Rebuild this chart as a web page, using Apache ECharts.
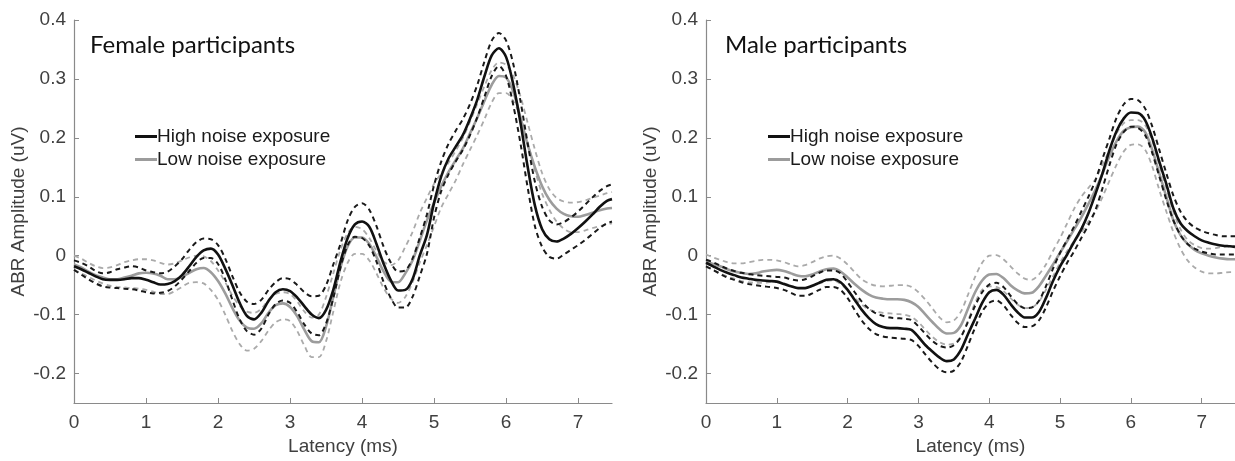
<!DOCTYPE html>
<html><head><meta charset="utf-8">
<script src="https://cdn.jsdelivr.net/npm/echarts@6/dist/echarts.min.js"></script>
<style>html,body{margin:0;padding:0;background:#fff}#c{width:1235px;height:461px}</style>
</head><body><div id="c"></div>
<script>
// Latency sample points (ms)
const latency = [0,0.1,0.2,0.3,0.4,0.5,0.6,0.7,0.8,0.9,1.0,1.1,1.2,1.3,1.4,1.5,1.6,1.7,1.8,1.9,2.0,2.1,2.2,2.3,2.4,2.5,2.6,2.7,2.8,2.9,3.0,3.1,3.2,3.3,3.4,3.5,3.6,3.7,3.8,3.9,4.0,4.1,4.2,4.3,4.4,4.5,4.6,4.7,4.8,4.9,5.0,5.1,5.2,5.3,5.4,5.5,5.6,5.7,5.8,5.9,6.0,6.1,6.2,6.3,6.4,6.5,6.6,6.7,6.8,6.9,7.0,7.1,7.2,7.3,7.4,7.47];

// Female participants
const femaleHigh = [-0.018,-0.023,-0.029,-0.035,-0.040,-0.041,-0.041,-0.040,-0.038,-0.038,-0.041,-0.045,-0.049,-0.048,-0.043,-0.033,-0.018,-0.002,0.009,0.012,0.002,-0.022,-0.050,-0.080,-0.102,-0.108,-0.097,-0.077,-0.062,-0.057,-0.060,-0.071,-0.086,-0.100,-0.106,-0.092,-0.058,-0.010,0.030,0.053,0.058,0.049,0.020,-0.014,-0.042,-0.059,-0.058,-0.040,0.000,0.035,0.090,0.135,0.165,0.185,0.205,0.233,0.265,0.305,0.340,0.352,0.337,0.290,0.225,0.150,0.085,0.045,0.028,0.024,0.029,0.037,0.047,0.058,0.070,0.083,0.093,0.096];
const femaleHighUpper = [-0.008,-0.012,-0.018,-0.026,-0.030,-0.028,-0.023,-0.020,-0.018,-0.020,-0.025,-0.028,-0.030,-0.027,-0.018,-0.006,0.010,0.023,0.029,0.028,0.018,-0.005,-0.035,-0.062,-0.078,-0.082,-0.075,-0.058,-0.045,-0.038,-0.040,-0.050,-0.062,-0.069,-0.068,-0.050,-0.015,0.020,0.060,0.083,0.089,0.078,0.050,0.015,-0.012,-0.027,-0.025,-0.005,0.030,0.070,0.120,0.160,0.190,0.212,0.232,0.258,0.290,0.330,0.365,0.378,0.365,0.325,0.262,0.190,0.125,0.083,0.060,0.053,0.057,0.065,0.075,0.087,0.099,0.110,0.118,0.121];
const femaleHighLower = [-0.024,-0.032,-0.040,-0.047,-0.052,-0.054,-0.055,-0.056,-0.057,-0.059,-0.062,-0.064,-0.063,-0.060,-0.052,-0.040,-0.026,-0.012,-0.004,-0.004,-0.014,-0.040,-0.075,-0.108,-0.128,-0.134,-0.124,-0.100,-0.082,-0.076,-0.080,-0.096,-0.117,-0.132,-0.135,-0.115,-0.072,-0.020,0.018,0.032,0.030,0.017,-0.010,-0.045,-0.072,-0.088,-0.088,-0.070,-0.035,0.003,0.065,0.110,0.138,0.160,0.180,0.205,0.235,0.270,0.305,0.322,0.305,0.255,0.190,0.115,0.050,0.015,-0.002,-0.005,0.002,0.010,0.018,0.027,0.037,0.047,0.055,0.058];
const femaleLow = [-0.015,-0.020,-0.027,-0.033,-0.037,-0.040,-0.040,-0.037,-0.034,-0.030,-0.029,-0.030,-0.034,-0.040,-0.040,-0.036,-0.029,-0.023,-0.021,-0.028,-0.043,-0.064,-0.089,-0.110,-0.122,-0.124,-0.115,-0.097,-0.084,-0.081,-0.087,-0.103,-0.126,-0.145,-0.147,-0.120,-0.070,-0.020,0.016,0.031,0.031,0.020,-0.002,-0.027,-0.044,-0.045,-0.030,-0.008,0.025,0.060,0.090,0.118,0.142,0.162,0.182,0.208,0.234,0.263,0.290,0.305,0.302,0.278,0.234,0.188,0.150,0.118,0.095,0.080,0.071,0.067,0.066,0.069,0.073,0.077,0.080,0.081];
const femaleLowUpper = [0.000,-0.005,-0.012,-0.018,-0.021,-0.020,-0.016,-0.011,-0.008,-0.006,-0.006,-0.008,-0.012,-0.015,-0.013,-0.008,-0.003,0.000,-0.001,-0.009,-0.025,-0.045,-0.068,-0.085,-0.095,-0.097,-0.090,-0.075,-0.065,-0.062,-0.065,-0.078,-0.095,-0.105,-0.100,-0.070,-0.030,0.010,0.038,0.049,0.045,0.030,0.008,-0.010,-0.016,-0.008,0.015,0.040,0.072,0.098,0.122,0.140,0.158,0.178,0.200,0.228,0.258,0.288,0.315,0.328,0.324,0.305,0.270,0.225,0.180,0.140,0.113,0.098,0.092,0.090,0.091,0.094,0.098,0.102,0.106,0.108];
const femaleLowLower = [-0.024,-0.030,-0.036,-0.042,-0.047,-0.051,-0.053,-0.054,-0.055,-0.056,-0.058,-0.061,-0.065,-0.065,-0.060,-0.053,-0.046,-0.045,-0.047,-0.058,-0.075,-0.100,-0.128,-0.150,-0.161,-0.158,-0.145,-0.127,-0.113,-0.108,-0.111,-0.128,-0.153,-0.172,-0.172,-0.145,-0.095,-0.045,-0.012,0.003,0.003,-0.008,-0.030,-0.055,-0.073,-0.080,-0.070,-0.045,-0.012,0.018,0.050,0.082,0.105,0.128,0.155,0.180,0.205,0.232,0.260,0.276,0.276,0.262,0.235,0.192,0.145,0.105,0.078,0.058,0.046,0.040,0.040,0.043,0.047,0.050,0.053,0.055];

// Male participants
const maleHigh = [-0.012,-0.018,-0.024,-0.029,-0.033,-0.037,-0.039,-0.041,-0.042,-0.043,-0.044,-0.048,-0.052,-0.055,-0.055,-0.051,-0.046,-0.041,-0.040,-0.045,-0.058,-0.075,-0.092,-0.106,-0.116,-0.121,-0.123,-0.123,-0.124,-0.126,-0.138,-0.152,-0.163,-0.173,-0.179,-0.176,-0.160,-0.133,-0.107,-0.080,-0.062,-0.058,-0.066,-0.082,-0.096,-0.105,-0.105,-0.096,-0.072,-0.043,-0.018,0.002,0.024,0.045,0.072,0.105,0.140,0.180,0.212,0.233,0.243,0.242,0.230,0.200,0.160,0.122,0.080,0.055,0.042,0.033,0.026,0.022,0.019,0.017,0.016,0.015];
const maleHighUpper = [-0.007,-0.011,-0.017,-0.022,-0.026,-0.029,-0.031,-0.033,-0.034,-0.035,-0.036,-0.037,-0.040,-0.042,-0.040,-0.035,-0.029,-0.025,-0.025,-0.030,-0.045,-0.062,-0.078,-0.090,-0.098,-0.102,-0.105,-0.106,-0.107,-0.109,-0.120,-0.133,-0.145,-0.153,-0.156,-0.152,-0.138,-0.112,-0.085,-0.062,-0.049,-0.046,-0.053,-0.068,-0.082,-0.089,-0.088,-0.077,-0.052,-0.022,0.005,0.027,0.050,0.075,0.100,0.128,0.165,0.200,0.235,0.257,0.266,0.264,0.250,0.220,0.180,0.140,0.102,0.075,0.058,0.048,0.042,0.038,0.035,0.033,0.033,0.033];
const maleHighLower = [-0.018,-0.024,-0.031,-0.037,-0.041,-0.045,-0.048,-0.050,-0.052,-0.053,-0.055,-0.058,-0.063,-0.068,-0.068,-0.064,-0.058,-0.053,-0.053,-0.058,-0.072,-0.092,-0.110,-0.124,-0.133,-0.137,-0.139,-0.140,-0.141,-0.143,-0.153,-0.168,-0.182,-0.193,-0.198,-0.195,-0.180,-0.152,-0.122,-0.095,-0.080,-0.076,-0.084,-0.100,-0.114,-0.121,-0.120,-0.110,-0.088,-0.060,-0.035,-0.012,0.008,0.030,0.052,0.078,0.115,0.155,0.190,0.210,0.219,0.217,0.205,0.175,0.135,0.095,0.060,0.035,0.020,0.012,0.007,0.004,0.002,0.002,0.002,0.002];
const maleLow = [-0.010,-0.014,-0.018,-0.023,-0.027,-0.029,-0.031,-0.030,-0.027,-0.025,-0.024,-0.026,-0.030,-0.034,-0.035,-0.032,-0.027,-0.023,-0.022,-0.027,-0.037,-0.048,-0.058,-0.066,-0.071,-0.073,-0.074,-0.074,-0.075,-0.079,-0.087,-0.100,-0.113,-0.125,-0.132,-0.131,-0.118,-0.090,-0.062,-0.042,-0.032,-0.031,-0.038,-0.050,-0.059,-0.064,-0.063,-0.052,-0.034,-0.015,0.005,0.025,0.045,0.065,0.088,0.112,0.140,0.170,0.195,0.212,0.218,0.219,0.210,0.180,0.140,0.100,0.060,0.035,0.020,0.010,0.004,0.000,-0.003,-0.005,-0.006,-0.006];
const maleLowUpper = [0.002,-0.003,-0.007,-0.011,-0.013,-0.013,-0.011,-0.009,-0.007,-0.007,-0.008,-0.011,-0.015,-0.018,-0.016,-0.011,-0.005,-0.001,0.000,-0.005,-0.015,-0.028,-0.040,-0.047,-0.051,-0.052,-0.051,-0.050,-0.050,-0.053,-0.062,-0.075,-0.090,-0.105,-0.113,-0.110,-0.095,-0.066,-0.036,-0.012,0.000,0.001,-0.006,-0.018,-0.030,-0.039,-0.041,-0.032,-0.015,0.008,0.030,0.055,0.080,0.100,0.115,0.130,0.155,0.180,0.208,0.225,0.230,0.230,0.222,0.195,0.155,0.115,0.075,0.045,0.027,0.018,0.013,0.012,0.013,0.015,0.016,0.016];
const maleLowLower = [-0.018,-0.024,-0.030,-0.035,-0.039,-0.043,-0.045,-0.046,-0.046,-0.045,-0.045,-0.047,-0.051,-0.055,-0.055,-0.052,-0.047,-0.043,-0.042,-0.048,-0.059,-0.072,-0.083,-0.091,-0.095,-0.097,-0.098,-0.099,-0.100,-0.104,-0.113,-0.126,-0.138,-0.147,-0.151,-0.149,-0.137,-0.110,-0.080,-0.058,-0.052,-0.053,-0.060,-0.072,-0.083,-0.089,-0.088,-0.078,-0.058,-0.035,-0.012,0.008,0.025,0.040,0.058,0.075,0.100,0.128,0.155,0.177,0.188,0.189,0.180,0.152,0.112,0.075,0.040,0.012,-0.008,-0.020,-0.027,-0.030,-0.030,-0.029,-0.028,-0.028];

const yTickValues = [-0.2,-0.1,0,0.1,0.2,0.3,0.4];
const panelTitles = ['Female participants','Male participants'];
const legendNames = ['High noise exposure','Low noise exposure'];

const pairs = arr => latency.map((x,i)=>[x, arr[i]]);
const FONT = '"Liberation Sans", Arial, sans-serif';
const AX = '#8a8a8a';
const FS = 19;

function xAxis(gi){return {type:'value',gridIndex:gi,min:0,max:7.47,interval:1,
  axisLine:{show:true,onZero:false,lineStyle:{color:AX,width:1.2}},
  axisTick:{show:true,inside:true,length:5,lineStyle:{color:AX}},
  axisLabel:{color:'#404040',fontFamily:FONT,fontSize:FS,margin:10,showMaxLabel:false,formatter:v=>String(v)},
  splitLine:{show:false},
  name:'Latency (ms)',nameLocation:'middle',nameGap:32,
  nameTextStyle:{color:'#404040',fontFamily:FONT,fontSize:FS}};}
function yAxis(gi){return {type:'value',gridIndex:gi,min:-0.25,max:0.4,
  axisLine:{show:true,onZero:false,lineStyle:{color:AX,width:1.2}},
  axisTick:{show:true,inside:true,length:5,lineStyle:{color:AX},customValues:yTickValues},
  axisLabel:{color:'#404040',fontFamily:FONT,fontSize:FS,margin:8,customValues:yTickValues,formatter:v=>String(Math.round(v*10)/10)},
  splitLine:{show:false},
  name:'ABR Amplitude (uV)',nameLocation:'middle',nameGap:46,
  nameTextStyle:{color:'#404040',fontFamily:FONT,fontSize:FS}};}

function panelSeries(gi, hi, hiU, hiL, lo, loU, loL){
  const base = {type:'line',xAxisIndex:gi,yAxisIndex:gi,showSymbol:false,smooth:0.3,animation:false,silent:true};
  return [
    Object.assign({},base,{name:'lowU'+gi,data:pairs(loU),lineStyle:{color:'#aaaaaa',width:1.8,type:[5,4]}}),
    Object.assign({},base,{name:'lowL'+gi,data:pairs(loL),lineStyle:{color:'#aaaaaa',width:1.8,type:[5,4]}}),
    Object.assign({},base,{name:legendNames[1],data:pairs(lo),lineStyle:{color:'#9c9c9c',width:2.6},itemStyle:{color:'#9c9c9c'}}),
    Object.assign({},base,{name:'highU'+gi,data:pairs(hiU),lineStyle:{color:'#1a1a1a',width:2,type:[5,4]}}),
    Object.assign({},base,{name:'highL'+gi,data:pairs(hiL),lineStyle:{color:'#1a1a1a',width:2,type:[5,4]}}),
    Object.assign({},base,{name:legendNames[0],data:pairs(hi),lineStyle:{color:'#111111',width:2.6},itemStyle:{color:'#111111'}})
  ];
}

function legend(left){return {left:left,top:122,orient:'vertical',data:legendNames,icon:'rect',
  itemWidth:22,itemHeight:3,itemGap:4,selectedMode:false,
  textStyle:{color:'#1a1a1a',fontFamily:FONT,fontSize:FS,padding:[0,0,0,-5]}};}

const chart = echarts.init(document.getElementById('c'),null,{renderer:'canvas'});
chart.setOption({
  backgroundColor:'#ffffff',
  animation:false,
  title:[
    {text:panelTitles[0],left:85,top:28,textStyle:{fontFamily:'Lato, "Open Sans", sans-serif',fontWeight:'normal',fontSize:24,color:'#111'}},
    {text:panelTitles[1],left:720,top:28,textStyle:{fontFamily:'Lato, "Open Sans", sans-serif',fontWeight:'normal',fontSize:24,color:'#111'}}
  ],
  legend:[legend(130),legend(763)],
  grid:[
    {left:74,top:20,width:538,height:383,containLabel:false},
    {left:706,top:20,width:538,height:383,containLabel:false}
  ],
  xAxis:[xAxis(0),xAxis(1)],
  yAxis:[yAxis(0),yAxis(1)],
  series:[].concat(
    panelSeries(0,femaleHigh,femaleHighUpper,femaleHighLower,femaleLow,femaleLowUpper,femaleLowLower),
    panelSeries(1,maleHigh,maleHighUpper,maleHighLower,maleLow,maleLowUpper,maleLowLower)
  )
});
</script></body></html>
